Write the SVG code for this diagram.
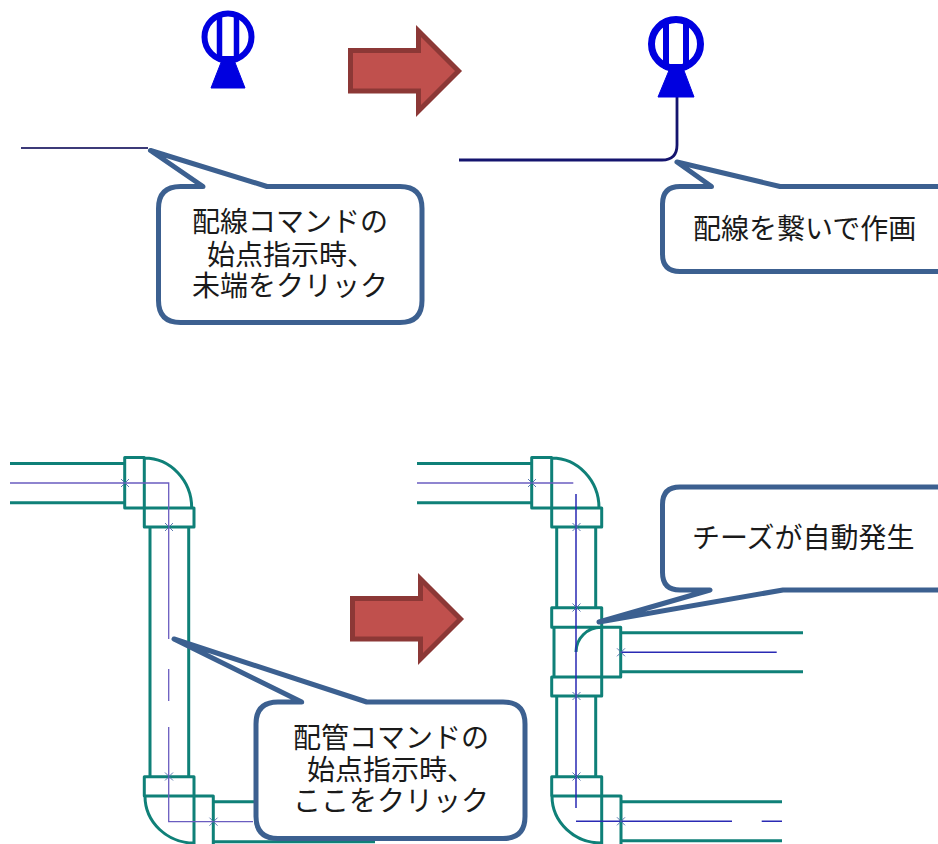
<svg xmlns="http://www.w3.org/2000/svg" width="938" height="844" viewBox="0 0 938 844">
<style>
.bg{fill:#fff}
.sym{fill:none;stroke:#0000e0}
.tri{fill:#0000e0;stroke:#0000e0;stroke-linejoin:round;stroke-width:1}
.arrow{fill:#c0504d;stroke:#8c3836;stroke-width:5;stroke-miterlimit:8}
.call{fill:#fff;stroke:#3c6090;stroke-width:5;stroke-linejoin:round}
.t{font-family:"Noto Sans CJK JP","Liberation Sans",sans-serif;font-size:28px;fill:#1a1a1a;font-weight:400}
.p{fill:none;stroke:#0f8078;stroke-width:3;stroke-linejoin:round}
.c{fill:none;stroke:#6a5cc0;stroke-width:1.3}
.c2{fill:none;stroke:#2a2ab4;stroke-width:1.5}
.x{fill:none;stroke:#4a6aa8;stroke-width:.9}
</style>
<defs>
<path id="xm" class="x" d="M-4-4L4 4M-4 4L4-4"/>
</defs>
<rect class="bg" width="938" height="844"/>
<g id="connectors">
<path d="M21 148H148" fill="none" stroke="#3c3a78" stroke-width="1.8"/>
<path d="M459 160H662Q677 160 677 145V97" fill="none" stroke="#14146e" stroke-width="2.8"/>
</g>
<g id="symbol-left">
<circle class="sym" cx="228" cy="37" r="23.500" stroke-width="6"/>
<path class="sym" stroke-width="5.500" d="M219.500 13V61M236.500 13V61"/>
<path class="sym" stroke-width="4" d="M219.500 58H236.500"/>
<path class="tri" d="M222 60H234L245 88H211Z"/>
</g>
<g id="symbol-right">
<circle class="sym" cx="676" cy="44" r="24.500" stroke-width="7"/>
<path class="sym" stroke-width="6" d="M666 19V69M686 19V69"/>
<path class="sym" stroke-width="4" d="M666 66H686"/>
<path class="tri" d="M670 68H683L694 97H658Z"/>
</g>
<g id="arrow-top"><path class="arrow" d="M350.500 50.500H418.500V31L458.500 71L418.500 111V91H350.500Z"/></g>
<g id="arrow-bottom"><path class="arrow" d="M352.500 598.500H420.500V579L460.500 619L420.500 659V639H352.500Z"/></g>
<g id="pipe-left">
<path class="p" d="M10 463.500H125M10 502.700H125M150 527V776.700M188.700 527V776.700M213.300 801.700H375M213.300 841.700H375"/>
<path class="p" d="M124.700 457.500H144.300V508H124.700ZM144.300 508H194V527H144.300ZM144.300 458A47.500 50 0 0 1 191.700 508M144.300 776.700H194V796H144.300ZM194 796H213.300V844M194 796V844M145 796A49 47 0 0 0 194 843"/>
<path class="c" d="M10 483H168.700V639M168.700 669V701M168.700 727V821.700H253"/>
<use href="#xm" x="125" y="483"/><use href="#xm" x="169" y="527"/><use href="#xm" x="169" y="776.500"/><use href="#xm" x="213.500" y="821.700"/>
</g>
<g id="pipe-right">
<path class="p" d="M417 463.500H532M417 502.700H532M556.700 527V607.700M595.700 527V607.700M556.700 696V776.700M595.700 696V776.700M621 632.700H803M621 671.700H803M621 801.700H782M621 840.700H782"/>
<path class="p" d="M531.700 457.500H551.700V508H531.700ZM551.700 508H601.700V527H551.700ZM551.700 458A47.500 50 0 0 1 599 508M551.700 607.700H601.700V627.300H551.700ZM554 627.300V677M601.700 627.300H620.700V677H554M601.700 627.300V696M551.700 677H601.700V696H551.700ZM576 652A25 25 0 0 1 601 627.300M551.700 776.700H601.700V796H551.700ZM601.700 796H621V844M601.700 796V844M552 796A49.500 47 0 0 0 601.700 843"/>
<path class="c" d="M417 483H573.300"/>
<path class="c2" d="M576 494V808M621 652.300H776.700M576 821.300H732M761.700 821.300H782"/>
<use href="#xm" x="532" y="483"/><use href="#xm" x="576.500" y="527"/><use href="#xm" x="576.500" y="607.500"/><use href="#xm" x="621" y="652.300"/><use href="#xm" x="576.500" y="696"/><use href="#xm" x="576.500" y="776.500"/><use href="#xm" x="621" y="821.300"/>
</g>
<g id="callout-1">
<path class="call" d="M180.500 186.500H203L150.500 150.500L267 186.500H400Q422 186.500 422 208.500V300.500Q422 322.500 400 322.500H180.500Q158.500 322.500 158.500 300.500V208.500Q158.500 186.500 180.500 186.500Z"/>
<text class="t" x="192" y="232">配線コマンドの</text>
<text class="t" x="207" y="265">始点指示時、</text>
<text class="t" x="192" y="296">未端をクリック</text>
</g>
<g id="callout-2">
<path class="call" d="M680 186.500H711.500L677 162L780 186.500H960V271.500H680Q662.500 271.500 662.500 254V204Q662.500 186.500 680 186.500Z"/>
<text class="t" x="693" y="239">配線を繋いで作画</text>
</g>
<g id="callout-3">
<path class="call" d="M680 487H960V590H783L599 622L710 590H680Q662.500 590 662.500 572.500V504.500Q662.500 487 680 487Z"/>
<text class="t" x="692" y="548">チーズが自動発生</text>
</g>
<g id="callout-4">
<path class="call" d="M278 702H301.700L174 639L366.700 702H503Q525 702 525 724V816.500Q525 838.500 503 838.500H278Q256 838.500 256 816.500V724Q256 702 278 702Z"/>
<text class="t" x="293" y="748">配管コマンドの</text>
<text class="t" x="307" y="780">始点指示時、</text>
<text class="t" x="293" y="811">ここをクリック</text>
</g>
</svg>
